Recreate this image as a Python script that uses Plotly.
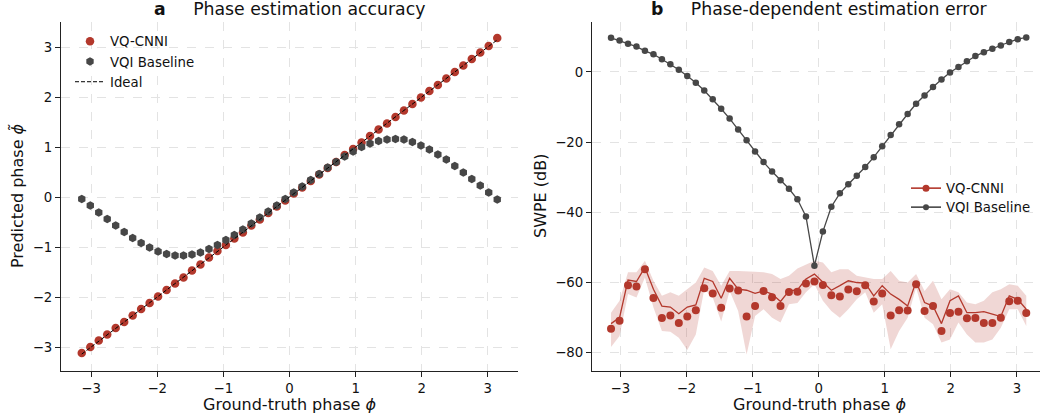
import plotly.graph_objects as go

# ---------------- data ----------------
phi = [-3.142, -3.013, -2.885, -2.757, -2.629, -2.500, -2.372, -2.244, -2.116, -1.988,
       -1.859, -1.731, -1.603, -1.475, -1.347, -1.218, -1.090, -0.962, -0.834, -0.705,
       -0.577, -0.449, -0.321, -0.192, -0.064, 0.064, 0.192, 0.321, 0.449, 0.577,
       0.705, 0.834, 0.962, 1.090, 1.218, 1.347, 1.475, 1.603, 1.731, 1.859,
       1.988, 2.116, 2.244, 2.372, 2.500, 2.629, 2.757, 2.885, 3.013, 3.142]

ideal_phi = [-3.142, 3.142]

pred_cnni = [-3.12, -3.00, -2.87, -2.75, -2.62, -2.50, -2.37, -2.24, -2.12, -1.99,
             -1.86, -1.73, -1.61, -1.47, -1.35, -1.21, -1.08, -0.96, -0.83, -0.71,
             -0.57, -0.45, -0.32, -0.19, -0.07, 0.07, 0.19, 0.32, 0.45, 0.58,
             0.70, 0.84, 0.96, 1.09, 1.22, 1.35, 1.47, 1.60, 1.73, 1.86,
             1.99, 2.12, 2.24, 2.37, 2.50, 2.63, 2.76, 2.89, 3.02, 3.18]

pred_vqi = [-0.04, -0.17, -0.31, -0.44, -0.57, -0.70, -0.82, -0.92, -1.01, -1.09,
            -1.14, -1.17, -1.17, -1.15, -1.11, -1.04, -0.96, -0.86, -0.76, -0.65,
            -0.53, -0.41, -0.29, -0.17, -0.04, 0.09, 0.21, 0.34, 0.46, 0.59,
            0.70, 0.81, 0.91, 1.00, 1.07, 1.12, 1.15, 1.16, 1.15, 1.10,
            1.03, 0.95, 0.85, 0.75, 0.62, 0.49, 0.36, 0.23, 0.09, -0.05]

swpe_vqi = [9.7, 8.9, 8.0, 7.2, 6.0, 5.0, 3.6, 2.2, 0.6, -1.2,
            -3.1, -5.3, -7.8, -10.5, -13.3, -16.4, -19.5, -22.7, -25.7, -28.4,
            -30.9, -33.3, -36.3, -41.2, -55.2, -45.5, -38.4, -34.6, -32.0, -29.6,
            -27.1, -24.3, -21.2, -18.0, -14.9, -12.0, -9.1, -6.7, -4.3, -2.2,
            -0.2, 1.4, 3.0, 4.5, 5.6, 6.6, 7.5, 8.5, 9.3, 9.8]

swpe_cnni_pts = [-73.2, -70.9, -60.8, -61.1, -56.2, -64.4, -70.1, -69.4, -71.5, -69.7,
                 -67.9, -61.6, -63.1, -67.2, -61.7, -62.3, -69.7, -66.7, -62.4, -64.2,
                 -66.7, -62.7, -62.6, -60.3, -59.7, -60.7, -63.6, -64.0, -62.0, -62.5,
                 -60.8, -65.4, -63.1, -69.4, -67.9, -68.0, -60.5, -68.1, -66.7, -73.8,
                 -68.7, -68.3, -70.2, -70.1, -71.5, -71.5, -70.0, -65.3, -65.2, -68.7]

swpe_cnni_mean = [-71.7, -70.0, -59.3, -59.7, -55.7, -61.9, -66.7, -67.0, -68.9, -67.0,
                  -66.4, -58.8, -59.7, -64.5, -58.8, -61.9, -62.2, -63.1, -62.4, -63.3,
                  -65.4, -62.4, -62.1, -59.0, -57.6, -60.0, -62.2, -60.9, -59.5, -60.0,
                  -60.2, -63.8, -60.9, -63.3, -64.8, -66.7, -59.7, -65.7, -66.7, -71.7,
                  -65.2, -63.8, -68.6, -68.6, -68.3, -69.0, -69.7, -63.8, -64.8, -67.6]

swpe_cnni_upper = [-68.6, -65.2, -57.1, -57.1, -53.8, -59.5, -63.8, -62.8, -63.8, -61.9,
                   -60.0, -55.7, -56.7, -60.9, -56.7, -56.7, -56.7, -56.9, -57.1, -57.6,
                   -59.0, -58.1, -56.0, -54.8, -53.8, -54.3, -57.1, -56.2, -56.2, -58.1,
                   -58.6, -59.0, -59.0, -56.7, -59.5, -60.0, -57.6, -62.4, -59.5, -64.8,
                   -61.9, -62.8, -65.7, -66.2, -65.2, -62.8, -61.9, -60.5, -60.9, -63.8]

swpe_cnni_lower = [-78.4, -75.2, -63.3, -64.3, -58.6, -67.1, -73.8, -74.0, -75.7, -79.2,
                   -74.8, -61.9, -64.3, -71.1, -62.4, -68.1, -80.5, -69.5, -67.6, -70.0,
                   -71.4, -66.2, -65.8, -62.8, -60.5, -65.2, -68.1, -70.0, -67.6, -64.8,
                   -62.8, -68.6, -66.2, -79.0, -73.8, -70.0, -61.4, -70.0, -71.9, -77.1,
                   -76.2, -71.4, -74.8, -77.1, -77.1, -76.2, -72.9, -67.6, -67.6, -72.4]

x_ticks = [-3, -2, -1, 0, 1, 2, 3]
y1_ticks = [-3, -2, -1, 0, 1, 2, 3]
y2_ticks = [-80, -60, -40, -20, 0]

# ---------------- style ----------------
RED = "#b3382c"
GRAY = "#474747"
BAND = "rgba(179,56,44,0.20)"
FONT = "DejaVu Sans"
W, H = 1040, 419

fig = go.Figure()

# ---- panel a ----
fig.add_trace(go.Scatter(x=phi, y=pred_cnni, mode="markers", name="VQ-CNNI",
                         marker=dict(color=RED, size=8.5, symbol="circle", line=dict(width=0)),
                         xaxis="x", yaxis="y", legend="legend"))
fig.add_trace(go.Scatter(x=phi, y=pred_vqi, mode="markers", name="VQI Baseline",
                         marker=dict(color=GRAY, size=8.5, symbol="hexagon", line=dict(width=0)),
                         xaxis="x", yaxis="y", legend="legend"))
fig.add_trace(go.Scatter(x=ideal_phi, y=ideal_phi, mode="lines", name="Ideal",
                         line=dict(color="black", width=1, dash="4px,2px"),
                         xaxis="x", yaxis="y", legend="legend"))

# ---- panel b ----
fig.add_trace(go.Scatter(x=phi, y=swpe_cnni_upper, mode="lines", line=dict(width=0),
                         showlegend=False, hoverinfo="skip", xaxis="x2", yaxis="y2"))
fig.add_trace(go.Scatter(x=phi, y=swpe_cnni_lower, mode="lines", line=dict(width=0),
                         fill="tonexty", fillcolor=BAND,
                         showlegend=False, hoverinfo="skip", xaxis="x2", yaxis="y2"))
fig.add_trace(go.Scatter(x=phi, y=swpe_cnni_mean, mode="lines",
                         line=dict(color=RED, width=1.3),
                         showlegend=False, xaxis="x2", yaxis="y2"))
fig.add_trace(go.Scatter(x=phi, y=swpe_cnni_pts, mode="markers",
                         marker=dict(color=RED, size=8),
                         showlegend=False, xaxis="x2", yaxis="y2"))
fig.add_trace(go.Scatter(x=phi, y=swpe_vqi, mode="lines+markers", name="VQI Baseline",
                         line=dict(color=GRAY, width=1.3),
                         marker=dict(color=GRAY, size=6.5),
                         showlegend=False, xaxis="x2", yaxis="y2"))
# legend entries for panel b
fig.add_trace(go.Scatter(x=[None], y=[None], mode="lines+markers", name="VQ-CNNI",
                         line=dict(color=RED, width=1.6), marker=dict(color=RED, size=7),
                         xaxis="x2", yaxis="y2", legend="legend2"))
fig.add_trace(go.Scatter(x=[None], y=[None], mode="lines+markers", name="VQI Baseline",
                         line=dict(color=GRAY, width=1.6), marker=dict(color=GRAY, size=6),
                         xaxis="x2", yaxis="y2", legend="legend3"))

axis_common = dict(
    showgrid=True, gridcolor="#e3e3e3", gridwidth=0.8, griddash="dash",
    showline=True, linecolor="#222222", linewidth=1.2,
    ticks="outside", ticklen=5, tickwidth=1.2, tickcolor="#222222",
    zeroline=False, tickfont=dict(family=FONT, size=13.3, color="#111111"),
    mirror=False,
)

leg_common = dict(xanchor="left", yanchor="top", bgcolor="rgba(255,255,255,0)",
                  font=dict(family=FONT, size=13.3, color="#111111"),
                  itemwidth=30, tracegroupgap=0, traceorder="normal")

y_dom = [(H - 371) / H, (H - 22) / H]
fig.update_layout(
    width=W, height=H,
    margin=dict(l=0, r=0, t=0, b=0),
    paper_bgcolor="white", plot_bgcolor="white",
    font=dict(family=FONT, color="#111111"),
    xaxis=dict(domain=[61 / W, 518 / W], range=[-3.456, 3.456], tickvals=x_ticks,
               anchor="y", **axis_common),
    yaxis=dict(domain=y_dom, range=[-3.48, 3.5], tickvals=y1_ticks, anchor="x",
               **axis_common),
    xaxis2=dict(domain=[592 / W, 1.0], range=[-3.43, 3.35], tickvals=x_ticks,
                anchor="y2", **axis_common),
    yaxis2=dict(domain=y_dom, range=[-85.2, 14.2], tickvals=y2_ticks, anchor="x2",
                **axis_common),
    legend=dict(x=70 / W, y=1 - 26 / H, **leg_common),
    legend2=dict(x=906 / W, y=1 - 173 / H, **leg_common),
    legend3=dict(x=906 / W, y=1 - 192 / H, **leg_common),
    showlegend=True,
)

NB = "\u00a0"
annotations = [
    dict(text="<b>a</b>" + NB * 5 + "Phase estimation accuracy", x=289 / W, y=1 - 9 / H,
         font=dict(size=17.3)),
    dict(text="<b>b</b>" + NB * 5 + "Phase-dependent estimation error", x=819 / W, y=1 - 9 / H,
         font=dict(size=17.3)),
    dict(text="Ground-truth phase <i>ϕ</i>", x=289 / W, y=1 - 404 / H, font=dict(size=16)),
    dict(text="Ground-truth phase <i>ϕ</i>", x=819 / W, y=1 - 404 / H, font=dict(size=16)),
    dict(text="Predicted phase <i>ϕ̃</i>", x=18 / W, y=1 - 196 / H, textangle=-90,
         font=dict(size=16)),
    dict(text="SWPE (dB)", x=541 / W, y=1 - 196 / H, textangle=-90, font=dict(size=16)),
]
for a in annotations:
    a.update(xref="paper", yref="paper", showarrow=False, xanchor="center", yanchor="middle")
    a["font"].update(family=FONT, color="#111111")
fig.update_layout(annotations=annotations)

fig.write_html("out.html")
